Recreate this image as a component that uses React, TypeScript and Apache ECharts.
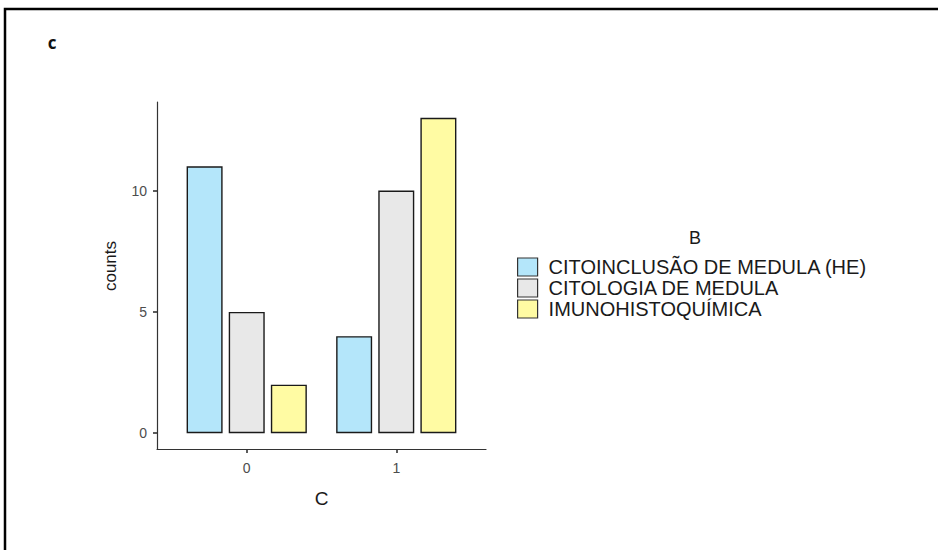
import React, { useEffect, useRef } from "react";
import * as echarts from "echarts";

// Group levels of C (x axis) and the three B categories
const categories = ["0", "1"];
const seriesNames = [
  "CITOINCLUSÃO DE MEDULA (HE)",
  "CITOLOGIA DE MEDULA",
  "IMUNOHISTOQUÍMICA",
];
const citoinclusao = [11, 4];
const citologia = [5, 10];
const imuno = [2, 13];
const yTicks = [0, 5, 10];
const fills = ["#b4e6fa", "#e8e8e8", "#fffba3"];

const FONT = "'Liberation Sans', Arial, sans-serif";

export default function App() {
  const ref = useRef<HTMLDivElement>(null);

  useEffect(() => {
    if (!ref.current) return;
    const chart = echarts.init(ref.current, undefined, { renderer: "svg" });
    const values = [citoinclusao, citologia, imuno];
    // categorical positions 1..n on a continuous axis, ggplot-style padding of 0.6
    const xPos = categories.map((_, i) => i + 1);
    const yMax = Math.max(...values.flat());

    const axisLine = {
      show: true,
      onZero: false,
      lineStyle: { color: "#333333", width: 1.2 },
    };
    const tickLine = { color: "#333333", width: 1.6 };

    chart.setOption({
      animation: false,
      backgroundColor: "#ffffff",
      textStyle: { fontFamily: FONT },
      grid: { left: 157, right: 452, top: 102, bottom: 101, containLabel: false },
      xAxis: {
        type: "value",
        min: 0.4,
        max: categories.length + 0.6,
        name: "C",
        nameLocation: "middle",
        nameGap: 40,
        nameTextStyle: { fontSize: 19, color: "#1a1a1a", fontFamily: FONT },
        splitLine: { show: false },
        axisLine,
        axisTick: {
          show: true,
          length: 4,
          customValues: xPos,
          lineStyle: tickLine,
        },
        axisLabel: {
          customValues: xPos,
          margin: 12,
          fontSize: 14,
          color: "#4d4d4d",
          fontFamily: FONT,
          formatter: (v: number) => categories[Math.round(v) - 1] ?? "",
        },
      },
      yAxis: {
        type: "value",
        min: -yMax * 0.05,
        max: yMax * 1.05,
        splitLine: { show: false },
        axisLine,
        axisTick: {
          show: true,
          length: 4,
          customValues: yTicks,
          lineStyle: tickLine,
        },
        axisLabel: {
          customValues: yTicks,
          margin: 10,
          fontSize: 14,
          color: "#4d4d4d",
          fontFamily: FONT,
        },
      },
      legend: {
        orient: "vertical",
        left: 517,
        top: 257,
        padding: 0,
        itemWidth: 20,
        itemHeight: 18,
        itemGap: 1,
        icon: "rect",
        data: seriesNames,
        itemStyle: { borderColor: "#333333", borderWidth: 1.2 },
        textStyle: {
          fontSize: 20,
          color: "#1a1a1a",
          fontFamily: FONT,
          lineHeight: 20,
          padding: [0, 0, 0, 6],
        },
      },
      graphic: [
        {
          type: "rect",
          shape: { x: 5, y: 9, width: 960, height: 580 },
          style: { fill: "none", stroke: "#000000", lineWidth: 2.5 },
          silent: true,
        },
        {
          type: "text",
          x: 52,
          y: 42,
          style: {
            text: "c",
            fontSize: 17,
            fontWeight: "bold",
            fontFamily: "'Open Sans', sans-serif",
            fill: "#111111",
            align: "center",
            verticalAlign: "middle",
          },
        },
        {
          type: "text",
          x: 110,
          y: 266,
          rotation: Math.PI / 2,
          style: {
            text: "counts",
            fontSize: 17,
            fontFamily: FONT,
            fill: "#1a1a1a",
            align: "center",
            verticalAlign: "middle",
          },
        },
        {
          type: "text",
          x: 695,
          y: 238,
          style: {
            text: "B",
            fontSize: 18,
            fontFamily: FONT,
            fill: "#1a1a1a",
            align: "center",
            verticalAlign: "middle",
          },
        },
      ],
      series: seriesNames.map((name, s) => ({
        name,
        type: "bar",
        barWidth: 36,
        barGap: "17%",
        data: xPos.map((x, i) => [x, values[s][i]]),
        itemStyle: {
          color: fills[s],
          borderColor: "#1a1a1a",
          borderWidth: 1.4,
        },
      })),
    });

    return () => chart.dispose();
  }, []);

  return (
    <div
      ref={ref}
      style={{ position: "fixed", left: 0, top: 0, width: 938, height: 550 }}
    />
  );
}
